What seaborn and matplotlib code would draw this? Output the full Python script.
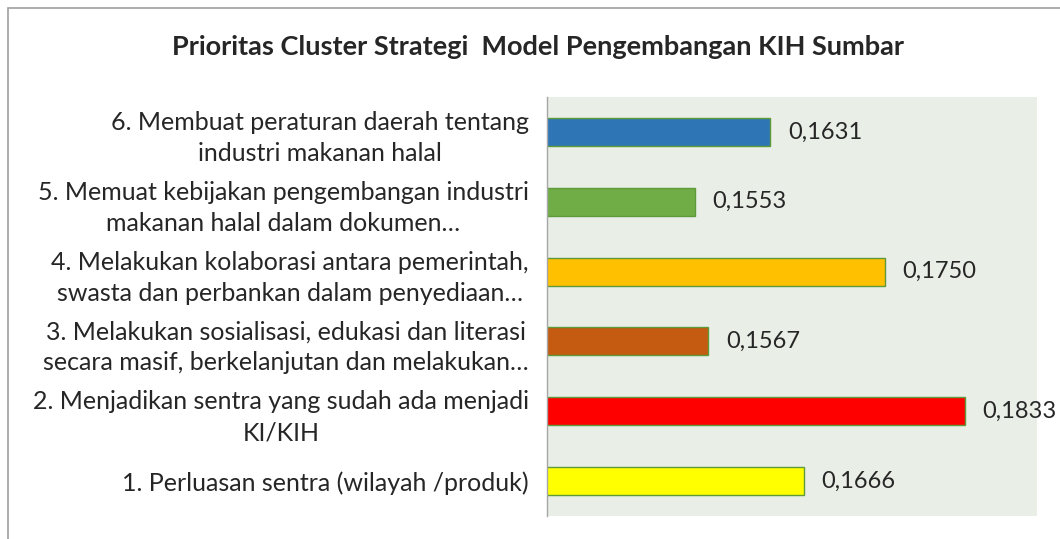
import matplotlib
matplotlib.use("Agg")
import matplotlib.pyplot as plt
from matplotlib.patches import Rectangle
import pandas as pd
import seaborn as sns

# data
strategi = [
    "1. Perluasan sentra (wilayah /produk)",
    "2. Menjadikan sentra yang sudah ada menjadi\nKI/KIH",
    "3. Melakukan sosialisasi, edukasi dan literasi\nsecara masif, berkelanjutan dan melakukan…",
    "4. Melakukan kolaborasi antara pemerintah,\nswasta dan perbankan dalam penyediaan…",
    "5. Memuat kebijakan pengembangan industri\nmakanan halal dalam dokumen…",
    "6. Membuat peraturan daerah tentang\nindustri makanan halal",
]
bobot = [0.1666, 0.1833, 0.1567, 0.1750, 0.1553, 0.1631]
warna = ["#FFFF00", "#FF0000", "#C55A11", "#FFC000", "#70AD47", "#2E75B6"]
judul = "Prioritas Cluster Strategi  Model Pengembangan KIH Sumbar"

df = pd.DataFrame({"strategi": strategi, "bobot": bobot})
urutan = strategi[::-1]

sns.set_style("white")
plt.rcParams["font.family"] = ["Lato", "DejaVu Sans"]

fig = plt.figure(figsize=(10.6, 5.39), dpi=100)
ax = fig.add_axes([547 / 1060, 1 - 516 / 539, 490 / 1060, (516 - 97) / 539])

sns.barplot(data=df, y="strategi", x="bobot", hue="strategi", order=urutan,
            hue_order=strategi, palette=warna, saturation=1, orient="h",
            width=0.4, edgecolor="#5E9A3A", linewidth=1.0, legend=False, ax=ax)

ax.set_facecolor("#E9EEE6")
ax.set_xlim(0.14, 0.1908)
ax.set_ylim(5.5, -0.5)
ax.set_xlabel("")
ax.set_ylabel("")
ax.set_xticks([])
ax.tick_params(axis="y", length=0, pad=13, labelsize=18)
for lbl in ax.get_yticklabels():
    lbl.set_multialignment("center")
    lbl.set_linespacing(1.42)
for s in ["top", "right", "bottom"]:
    ax.spines[s].set_visible(False)
ax.spines["left"].set_color("#A6A6A6")
ax.spines["left"].set_linewidth(1.0)

for c in ax.containers:
    ax.bar_label(c, labels=[f"{v:.4f}".replace(".", ",") for v in c.datavalues],
                 padding=13, fontsize=17, clip_on=False)

fig.text(538 / 1060, 1 - 47 / 539, judul, ha="center", va="center",
         fontsize=19.5, fontweight="bold")

fig.patches.append(Rectangle((8 / 1060, -0.1), 1.2, 1.1 - 8 / 539,
                             transform=fig.transFigure, fill=False,
                             edgecolor="#A0A0A0", linewidth=1.2))

fig.savefig("out.png", dpi=100)
